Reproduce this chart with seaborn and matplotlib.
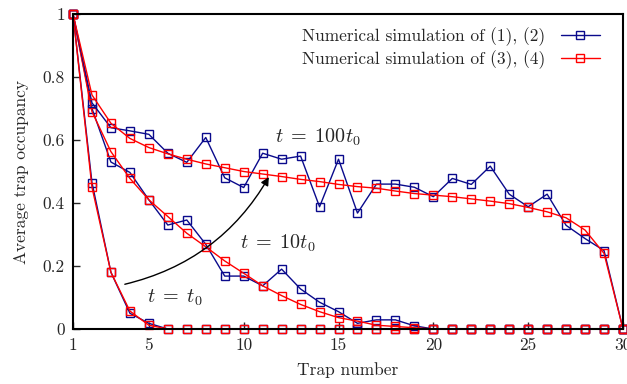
import numpy as np
import pandas as pd
import matplotlib
matplotlib.use("Agg")
import matplotlib.pyplot as plt
import seaborn as sns
from matplotlib.lines import Line2D

traps = list(range(1, 31))
blue_t0 = [1, 0.465, 0.18, 0.05, 0.018] + [0] * 25
red_t0 = [1, 0.45, 0.18, 0.057, 0.012] + [0] * 25
blue_10 = [1, 0.70, 0.53, 0.497, 0.41, 0.33, 0.346, 0.269, 0.168, 0.168, 0.137, 0.19,
           0.127, 0.085, 0.055, 0.018, 0.029, 0.029, 0.01] + [0] * 11
red_10 = [1, 0.69, 0.563, 0.478, 0.41, 0.357, 0.304, 0.261, 0.216, 0.177, 0.137, 0.106,
          0.078, 0.055, 0.036, 0.025, 0.012, 0.008, 0.004] + [0] * 11
blue_100 = [1, 0.718, 0.639, 0.629, 0.618, 0.558, 0.529, 0.608, 0.48, 0.449, 0.558, 0.539,
            0.549, 0.388, 0.539, 0.368, 0.46, 0.46, 0.45, 0.42, 0.478, 0.459, 0.517, 0.428,
            0.388, 0.428, 0.329, 0.287, 0.249, 0]
red_100 = [1, 0.743, 0.653, 0.605, 0.576, 0.556, 0.539, 0.524, 0.512, 0.50, 0.492, 0.484,
           0.475, 0.468, 0.459, 0.452, 0.447, 0.438, 0.43, 0.425, 0.42, 0.413, 0.406, 0.398,
           0.386, 0.372, 0.353, 0.314, 0.24, 0]

label_blue = "Numerical simulation of (1), (2)"
label_red = "Numerical simulation of (3), (4)"
xticks = [1, 5, 10, 15, 20, 25, 30]
yticks = [0, 0.2, 0.4, 0.6, 0.8, 1]
ytick_labels = ["0", "0.2", "0.4", "0.6", "0.8", "1"]

sns.set_style("white")
plt.rcParams["font.family"] = ["cmr10", "DejaVu Serif"]
plt.rcParams["mathtext.fontset"] = "cm"
plt.rcParams["axes.unicode_minus"] = False

BLUE = "#0a0a8c"
RED = "#ff0000"
FS = 12.5
MS = 6.3

fig = plt.figure(figsize=(6.27, 3.84), dpi=100)
ax = fig.add_axes([73 / 627, 1 - 329 / 384, 550 / 627, 315 / 384])

series = [
    (blue_t0, BLUE), (red_t0, RED),
    (blue_10, BLUE), (red_10, RED),
    (blue_100, BLUE), (red_100, RED),
]
for vals, col in series:
    sns.lineplot(x=traps, y=vals, ax=ax, color=col, marker="s", markersize=MS,
                 markerfacecolor="none", markeredgecolor=col, markeredgewidth=1.0,
                 linewidth=1.0, clip_on=False, estimator=None, sort=False,
                 legend=False)

ax.set_xlim(1, 30)
ax.set_ylim(0, 1)
ax.set_xticks(xticks)
ax.set_xticklabels([str(t) for t in xticks])
ax.set_yticks(yticks)
ax.set_yticklabels(ytick_labels)
ax.tick_params(direction="in", length=5, width=1, labelsize=FS, pad=6,
               left=True, bottom=True)
for s in ax.spines.values():
    s.set_linewidth(1.5)
    s.set_color("black")

ax.set_xlabel("Trap number", fontsize=FS, labelpad=7)
ax.set_ylabel("Average trap occupancy", fontsize=FS, labelpad=10)

TFS = 14.5
ax.text(11.67, 0.61, r"$t\;=\;100t_0$", fontsize=TFS, va="center", ha="left")
ax.text(9.82, 0.273, r"$t\;=\;10t_0$", fontsize=TFS, va="center", ha="left")
ax.text(4.9, 0.10, r"$t\;=\;t_0$", fontsize=TFS, va="center", ha="left")
ax.annotate("", xy=(11.4, 0.49), xytext=(3.59, 0.14),
            arrowprops=dict(arrowstyle="-|>", color="black", lw=1.0,
                            connectionstyle="arc3,rad=0.22", mutation_scale=12))

handles = [Line2D([], [], color=BLUE, marker="s", markersize=MS, markerfacecolor="none",
                  markeredgecolor=BLUE, lw=1.0),
           Line2D([], [], color=RED, marker="s", markersize=MS, markerfacecolor="none",
                  markeredgecolor=RED, lw=1.0)]
ax.legend(handles, [label_blue, label_red], loc="upper right", frameon=False,
          markerfirst=False, fontsize=FS, handlelength=2.25, labelspacing=0.25,
          bbox_to_anchor=(1 - 18 / 550, 1 - 8 / 315), borderaxespad=0.0,
          handletextpad=0.9, borderpad=0.3)

fig.savefig("out.png", dpi=100)
